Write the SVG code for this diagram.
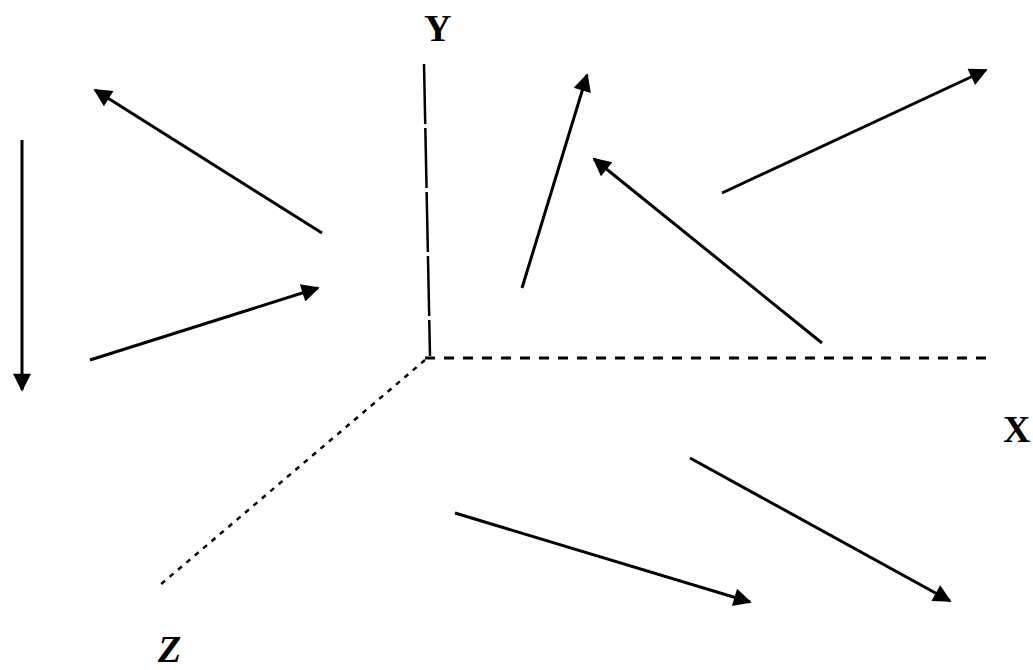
<svg xmlns="http://www.w3.org/2000/svg" width="1033" height="670" viewBox="0 0 1033 670">
<style>
.arr{stroke:#000;stroke-width:3;fill:none;marker-end:url(#ah)}
.ax{stroke:#000;fill:none}
.lbl{font-family:"Liberation Serif",serif;font-weight:bold;font-size:38px;fill:#000}
</style>
<defs>
<marker id="ah" viewBox="0 0 10 10" refX="9" refY="5" markerWidth="7" markerHeight="6" orient="auto" markerUnits="strokeWidth">
<path d="M0,0 L10,5 L0,10 Z" fill="#000"/>
</marker>
</defs>
<rect width="1033" height="670" fill="#fff"/>
<g id="axes">
<path id="axis-y" class="ax" d="M424,64 L430,356" stroke-width="2.5" stroke-dasharray="60,4"/>
<path id="axis-x" class="ax" d="M425,358 L992,358" stroke-width="3" stroke-dasharray="10,9"/>
<path id="axis-z" class="ax" d="M425,360 L160,585" stroke-width="2.5" stroke-dasharray="5,6"/>
</g>
<g id="labels">
<text class="lbl" x="424" y="41">Y</text>
<text class="lbl" x="1003" y="442">X</text>
<text class="lbl" x="158" y="662" font-style="italic">Z</text>
</g>
<g id="connectors">
<path class="arr" d="M322,233 L95,90"/>
<path class="arr" d="M22,140 L22,390"/>
<path class="arr" d="M90,360 L318,288"/>
<path class="arr" d="M522,288 L587,75"/>
<path class="arr" d="M822,343 L594,159"/>
<path class="arr" d="M722,193 L986,70"/>
<path class="arr" d="M455,513 L750,602"/>
<path class="arr" d="M690,458 L950,601"/>
</g>
</svg>
